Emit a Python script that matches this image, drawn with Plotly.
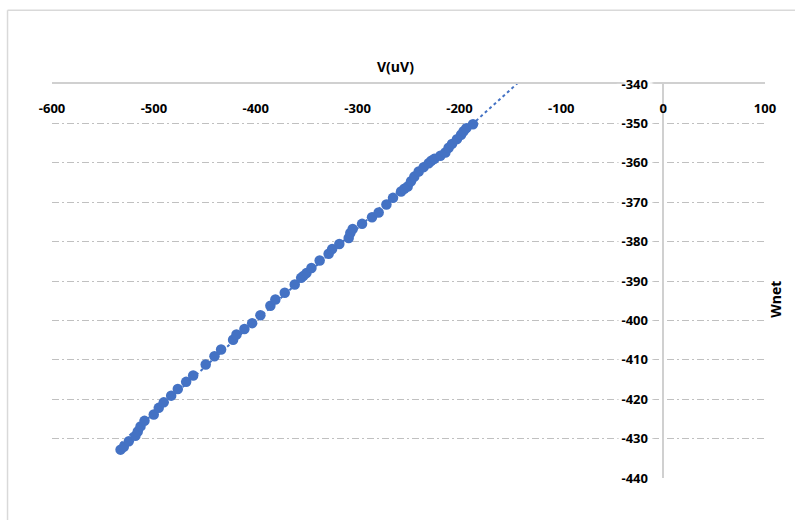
import numpy as np
import plotly.graph_objects as go

# Data
v_uV = [-532.7, -529.5, -524.6, -518.1, -515.8, -513.1, -509.2, -500.1, -495.2, -490.3,
        -483.0, -476.5, -468.3, -461.4, -449.1, -440.5, -434.0, -422.2, -418.9, -411.1,
        -403.5, -395.4, -385.6, -380.7, -371.5, -361.7, -355.4, -353.2, -350.2, -345.3,
        -337.2, -328.4, -325.0, -317.9, -308.7, -307.1, -304.8, -295.6, -285.8, -279.3,
        -271.7, -265.2, -257.3, -254.1, -250.8, -247.5, -244.3, -240.0, -235.1, -230.2,
        -227.6, -224.6, -218.7, -213.8, -210.6, -207.3, -202.4, -198.4, -195.9, -193.2,
        -186.7]
wnet = [-432.8, -432.1, -430.7, -429.3, -428.2, -426.9, -425.5, -423.9, -422.2, -420.8,
        -419.1, -417.4, -415.6, -414.0, -411.2, -409.1, -407.4, -404.9, -403.6, -402.2,
        -400.7, -398.7, -396.3, -394.7, -393.0, -390.9, -389.2, -388.7, -388.0, -386.7,
        -384.8, -383.1, -381.9, -380.6, -379.1, -377.8, -376.8, -375.5, -373.8, -372.6,
        -370.6, -368.9, -367.3, -366.6, -366.0, -364.7, -363.5, -362.2, -361.1, -360.1,
        -359.5, -359.0, -358.2, -357.4, -356.2, -355.2, -354.0, -352.9, -352.0, -351.2,
        -350.2]

x_ticks = [-600, -500, -400, -300, -200, -100, 0, 100]
x_ticklabels = ["-600", "-500", "-400", "-300", "-200", "-100", "0", "100"]
y_ticks = [-440, -430, -420, -410, -400, -390, -380, -370, -360, -350, -340]
y_ticklabels = ["-440", "-430", "-420", "-410", "-400", "-390", "-380", "-370", "-360", "-350", "-340"]
TREND_FORWARD = 100  # linear trendline forecast forward (clipped by the plot area)

BLUE = "#4472C4"
GRID = "#c0c0c0"
AXIS = "#d0d0d0"
FONT = "Open Sans"

# Linear trendline fitted to the data
slope, intercept = np.polyfit(v_uV, wnet, 1)
tx = np.array([min(v_uV), max(v_uV) + TREND_FORWARD])
ty = slope * tx + intercept

fig = go.Figure()
fig.add_trace(go.Scatter(x=tx, y=ty, mode="lines",
                         line=dict(color=BLUE, width=2, dash="dot"),
                         hoverinfo="skip", showlegend=False))
fig.add_trace(go.Scatter(x=v_uV, y=wnet, mode="markers",
                         marker=dict(color=BLUE, size=10.5),
                         showlegend=False))

tickfont = dict(family=FONT, size=13, color="#000000", weight=700)

fig.update_layout(
    width=795, height=520,
    margin=dict(l=51.5, r=30, t=84.3, b=41.7),
    paper_bgcolor="white", plot_bgcolor="white",
    xaxis=dict(
        range=[-600, 100], side="top", tickvals=x_ticks, ticktext=x_ticklabels,
        ticklabelposition="inside", ticklabeloverflow="allow", ticklabelstandoff=20,
        ticks="", showgrid=False, zeroline=False,
        showline=True, linecolor=AXIS, linewidth=1.5,
        tickfont=tickfont,
    ),
    yaxis=dict(
        range=[-440, -340], side="right", anchor="free", position=600 / 700,
        tickvals=y_ticks, ticktext=y_ticklabels,
        ticklabelposition="inside", ticklabeloverflow="allow",
        ticklabelstandoff=14, ticks="",
        showgrid=True, gridcolor=GRID, gridwidth=1, griddash="7px,3px,2px,3px",
        zeroline=False, showline=True, linecolor=AXIS, linewidth=1.5,
        tickfont=dict(tickfont, shadow="3px 0 1px white, -3px 0 1px white, 5px 0 2px white, -5px 0 2px white"),
    ),
    annotations=[
        dict(text="V(uV)", xref="paper", yref="paper",
             x=(395 - 51.5) / 713.5, y=1 + (84.3 - 67) / 394,
             showarrow=False, xanchor="center", yanchor="middle",
             font=dict(family=FONT, size=14, color="#000000", weight=700)),
        dict(text="Wnet", xref="paper", yref="paper", textangle=-90,
             x=(776 - 51.5) / 713.5, y=(478.3 - 299) / 394,
             showarrow=False, xanchor="center", yanchor="middle",
             font=dict(family=FONT, size=14, color="#000000", weight=700)),
    ],
    shapes=[
        dict(type="line", xref="paper", yref="paper",
             x0=(7 - 51.5) / 713.5, x1=(7 - 51.5) / 713.5,
             y0=1 + (84.3 - 10.5) / 394, y1=-0.3,
             line=dict(color="#d9d9d9", width=1.5), layer="below"),
        dict(type="line", xref="paper", yref="paper",
             x0=(7 - 51.5) / 713.5, x1=1.2,
             y0=1 + (84.3 - 10.5) / 394, y1=1 + (84.3 - 10.5) / 394,
             line=dict(color="#d9d9d9", width=1.5), layer="below"),
    ],
)

fig.write_html("out.html", config={"displayModeBar": False},
               post_script="document.body.style.margin='0';")
